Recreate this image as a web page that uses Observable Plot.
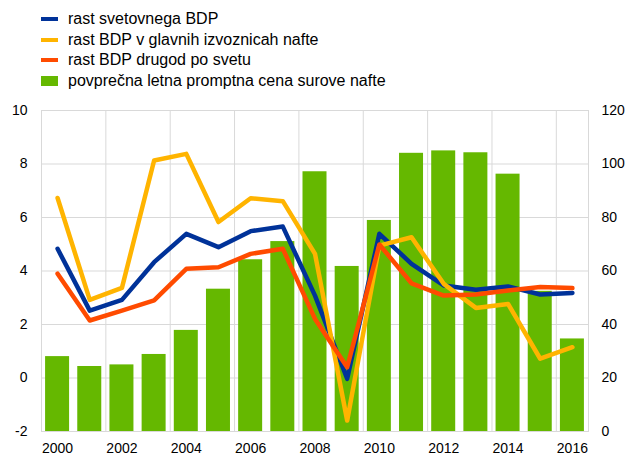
<!DOCTYPE html>
<html><head><meta charset="utf-8">
<script src="https://cdn.jsdelivr.net/npm/d3@7"></script>
<script src="https://cdn.jsdelivr.net/npm/@observablehq/plot@0.6"></script>
<style>
body{margin:0;background:#fff;font-family:"Liberation Sans",Arial,sans-serif;color:#000;}
#legend{position:relative;width:630px;height:95px;}
.row{position:absolute;left:41px;height:20px;line-height:20px;font-size:16px;white-space:nowrap;}
.sw{position:absolute;left:0;width:17px;}
.lab{position:absolute;left:27px;top:0;}
</style></head>
<body>
<div id="legend"></div>
<div id="chart"></div>
<script>
const years = [2000,2001,2002,2003,2004,2005,2006,2007,2008,2009,2010,2011,2012,2013,2014,2015,2016];
const worldGDP    = [4.83,2.52,2.92,4.33,5.39,4.89,5.49,5.66,3.08,-0.03,5.39,4.27,3.46,3.30,3.42,3.12,3.18];
const exporterGDP = [6.73,2.92,3.37,8.13,8.38,5.83,6.72,6.61,4.64,-1.59,4.95,5.26,3.52,2.62,2.77,0.72,1.15];
const restGDP     = [3.90,2.15,2.52,2.90,4.08,4.14,4.64,4.83,2.21,0.40,4.99,3.54,3.08,3.12,3.27,3.40,3.36];
const oilPrice    = [28.0,24.3,24.9,28.8,37.8,53.2,64.2,71.0,97.1,61.7,78.9,104.0,104.9,104.2,96.2,52.4,34.6];
const seriesNames = ["rast svetovnega BDP","rast BDP v glavnih izvoznicah nafte","rast BDP drugod po svetu","povprečna letna promptna cena surove nafte"];
const colors = ["#003299","#ffb400","#ff4b00","#65b800"];
const xTicks = [2000,2002,2004,2006,2008,2010,2012,2014,2016];
const leftTicks = [-2,0,2,4,6,8,10];
const rightTicks = [0,20,40,60,80,100,120];
const xGrid = [2001.5,2003.5,2005.5,2007.5,2009.5,2011.5,2013.5,2015.5];

// legend
const legend = document.getElementById("legend");
const rowCenters = [19,39.5,60,81];
seriesNames.forEach((name,i)=>{
  const r = document.createElement("div");
  r.className="row"; r.style.top=(rowCenters[i]-10)+"px";
  const s = document.createElement("div"); s.className="sw";
  s.style.background=colors[i];
  if(i<3){s.style.height="4px"; s.style.top="8px";} else {s.style.height="10px"; s.style.top="5px";}
  const t = document.createElement("div"); t.className="lab"; t.textContent=name;
  r.appendChild(s); r.appendChild(t); legend.appendChild(r);
});

const data = years.map((y,i)=>({year:y, world:worldGDP[i], exp:exporterGDP[i], rest:restGDP[i], oil:oilPrice[i]}));
const toLeft = v => -2 + v/10; // right axis 0..120 -> left axis -2..10

const chart = Plot.plot({
  width:630, height:361,
  marginTop:15, marginBottom:25, marginLeft:41, marginRight:42,
  style:{fontFamily:'"Liberation Sans",Arial,sans-serif', fontSize:"14px", color:"#000", background:"#fff"},
  x:{type:"linear", domain:[1999.5,2016.5]},
  y:{domain:[-2,10]},
  marks:[
    Plot.gridY(leftTicks,{stroke:"#d9d9d9", strokeOpacity:1, strokeWidth:1}),
    Plot.ruleX(xGrid,{stroke:"#d9d9d9", strokeWidth:1}),
    Plot.frame({stroke:"#d9d9d9"}),
    Plot.rectY(data,{x1:d=>d.year-0.373, x2:d=>d.year+0.373, y1:d=>-2, y2:d=>toLeft(d.oil), fill:colors[3]}),
    Plot.lineY(data,{x:"year", y:"world", stroke:colors[0], strokeWidth:4.5}),
    Plot.lineY(data,{x:"year", y:"exp", stroke:colors[1], strokeWidth:4.5}),
    Plot.lineY(data,{x:"year", y:"rest", stroke:colors[2], strokeWidth:4.5}),
    Plot.axisX(xTicks,{tickSize:0, tickPadding:12, tickFormat:d=>String(d), label:null}),
    Plot.axisY(leftTicks,{anchor:"left", tickSize:0, tickPadding:14, tickFormat:d=>String(d), label:null}),
    Plot.axisY(rightTicks.map(toLeft),{anchor:"right", tickSize:0, tickPadding:13, tickFormat:d=>String(Math.round((d+2)*10)), label:null})
  ]
});
document.getElementById("chart").appendChild(chart);
</script>
</body></html>
